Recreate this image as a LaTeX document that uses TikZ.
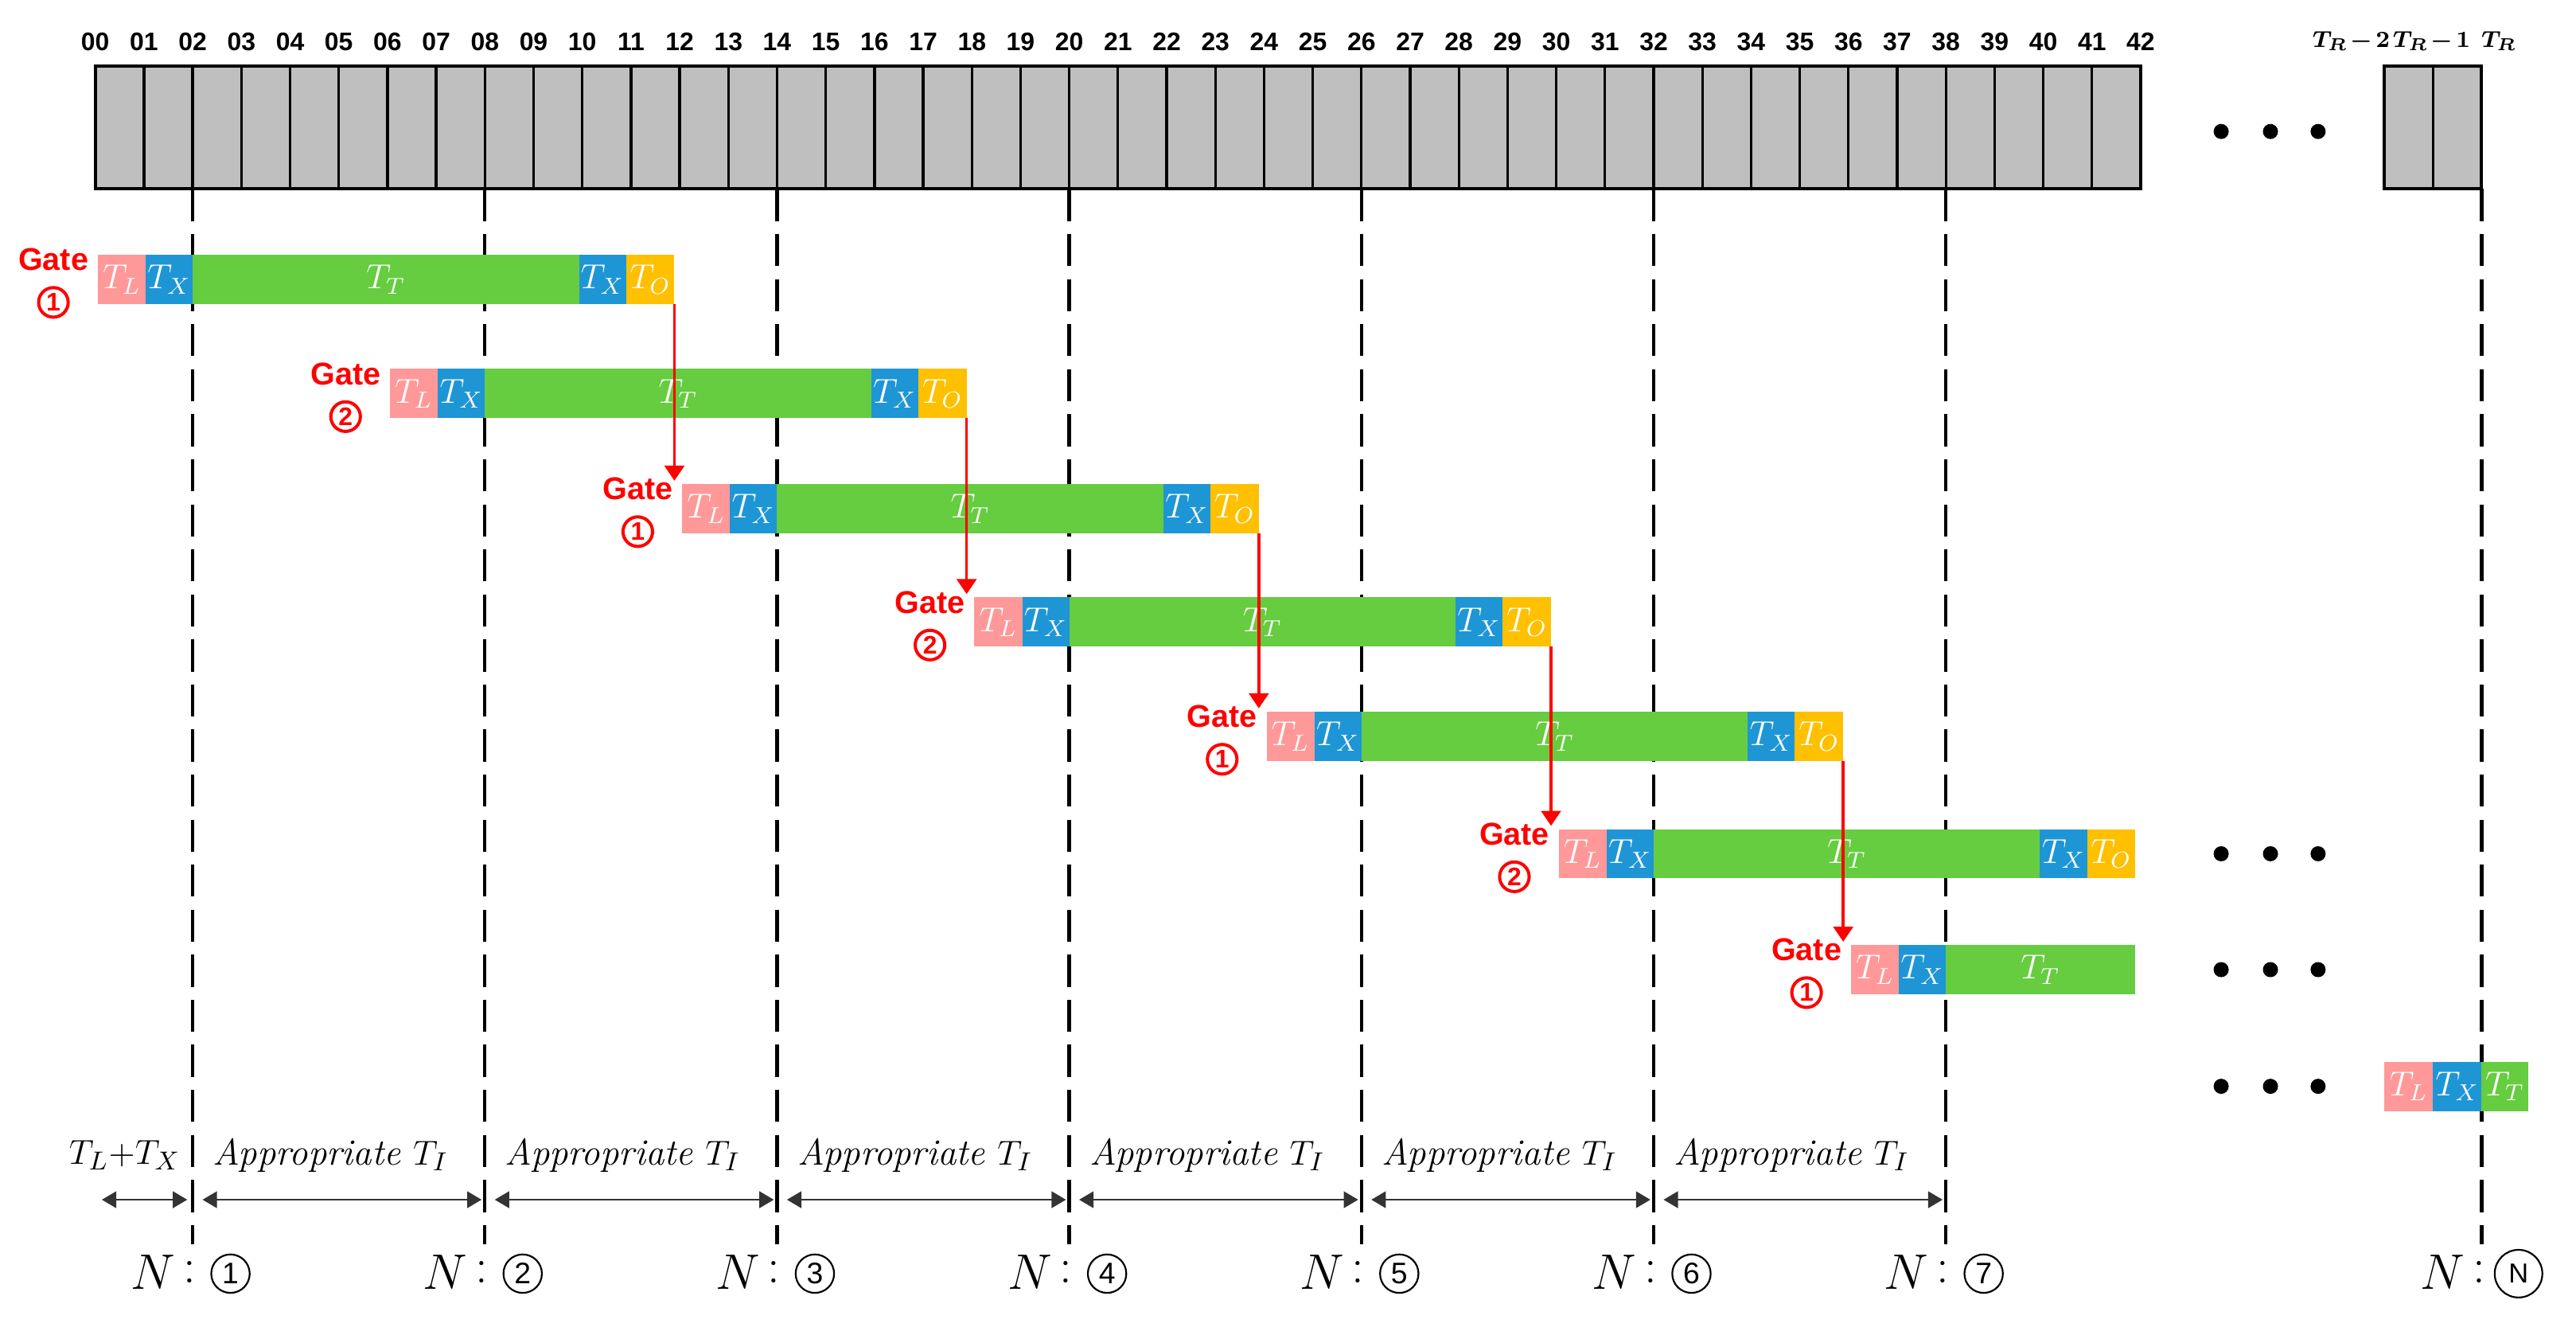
\documentclass[tikz,border=0pt]{standalone}
\usepackage{fontspec}
\newfontfamily\sansf{Liberation Sans}
\usetikzlibrary{arrows.meta,calc}
\definecolor{cTL}{HTML}{FF9999}
\definecolor{cTX}{HTML}{1E96D6}
\definecolor{cTT}{HTML}{66CC40}
\definecolor{cTO}{HTML}{FFC000}
\definecolor{cGray}{HTML}{BFBFBF}
\definecolor{cRed}{HTML}{FF0000}
\newcommand\seg[6]{%
  \node[segbox,fill=#5,minimum width={((#3)-(#2))*0.02cm}] (#1) at ({((#2)+(#3))/2},#4) {#6};}
\begin{document}
\begin{tikzpicture}[x=0.02cm,y=-0.02cm,
  segbox/.style={rectangle,inner sep=0pt,outer sep=0pt,minimum height={30*0.02cm},text=white,font=\fontsize{12}{13}\selectfont},
  gate/.style={text=cRed,font=\sansf\bfseries\fontsize{10.9}{12}\selectfont,inner sep=0pt},
  gcirc/.style={circle,draw=cRed,line width=1.1pt,text=cRed,minimum size={18*0.02cm},inner sep=0pt,font=\sansf\bfseries\fontsize{8.8}{9}\selectfont},
  bcirc/.style={circle,draw,line width=0.6pt,minimum size={23.4*0.02cm},inner sep=0pt,font=\sansf\fontsize{10.3}{11}\selectfont},
  topnum/.style={font=\sansf\bfseries\fontsize{8.8}{9}\selectfont,inner sep=0pt},
  trlab/.style={font=\fontsize{8.5}{10}\selectfont\boldmath,inner sep=0pt},
  dline/.style={line width=1.2pt,dash pattern=on 11.1pt off 4.5pt},
  redarr/.style={cRed,line width=1pt,-{Triangle[width=6.8pt,length=5.2pt]}},
  barr/.style={black!80,line width=0.7pt,{Triangle[width=5.7pt,length=5pt]}-{Triangle[width=5.7pt,length=5pt]}},
  btxt/.style={font=\fontsize{12.9}{14}\selectfont,inner sep=0pt},
  nlab/.style={font=\fontsize{17.28}{19}\selectfont,inner sep=0pt},
  dot/.style={fill=black}]
\useasboundingbox (0,0) rectangle (1568,812);

% ---- dashed guide lines ----
\foreach \k in {2,8,14,20,26,32,38}{
  \draw[dline] ({58+29.643*\k},115) -- ({58+29.643*\k},757);
}
\draw[dline] (1510.5,115) -- (1510.5,757);

% ---- top grid ----
\draw[fill=cGray,line width=1.1pt] (58,40) rectangle (1303,115);
\foreach \i in {1,...,41}{
  \draw[line width=0.9pt] ({58+29.643*\i},40) -- ({58+29.643*\i},115);
}
\draw[fill=cGray,line width=1.1pt] (1451,40) rectangle (1510.5,115);
\draw[line width=0.9pt] (1481,40) -- (1481,115);
\foreach \i in {0,...,42}{
  \node[topnum] (n\i) at ({58+29.643*\i},25.5) {\ifnum\i<10 0\fi\i};
}
\node[trlab,anchor=east] (tr2) at (1455,25) {$T_R\mkern2mu{-}\mkern2mu2$};
\node[trlab,anchor=east] (tr1) at (1504,25) {$T_R\mkern2mu{-}\mkern2mu1$};
\node[trlab,anchor=west] (tr0) at (1510,25) {$T_R$};
\foreach \x in {1352,1382,1411}{
  \fill[dot] (\x,80) circle[radius=4.6];
}

% ---- bars ----
\foreach \r/\g/\yc in {0/1/170,1/2/239.5,2/1/309.5,3/2/378.5,4/1/448,5/2/519.5}{
  \pgfmathsetmacro\xa{58+29.643*6*\r+1.5}
  \pgfmathsetmacro\xb{58+29.643*(6*\r+1)+1}
  \pgfmathsetmacro\xc{58+29.643*(6*\r+2)}
  \pgfmathsetmacro\xd{58+29.643*(6*\r+10)-2}
  \pgfmathsetmacro\xe{58+29.643*(6*\r+11)-3}
  \pgfmathsetmacro\xf{58+29.643*(6*\r+12)-3.2}
  \seg{L\r}{\xa}{\xb}{\yc}{cTL}{$T_L$}
  \seg{X\r}{\xb}{\xc}{\yc}{cTX}{$T_X$}
  \seg{T\r}{\xc}{\xd}{\yc}{cTT}{$T_T$}
  \seg{Y\r}{\xd}{\xe}{\yc}{cTX}{$T_X$}
  \seg{O\r}{\xe}{\xf}{\yc}{cTO}{$T_O$}
  \node[gate] (G\r) at ({\xa-27},{\yc-12}) {Gate};
  \node[gcirc] (C\r) at ({\xa-27},{\yc+14}) {\g};
}
\pgfmathsetmacro\xa{58+29.643*36+1.5}
\pgfmathsetmacro\xb{58+29.643*37+1}
\pgfmathsetmacro\xc{58+29.643*38}
\seg{L6}{\xa}{\xb}{590}{cTL}{$T_L$}
\seg{X6}{\xb}{\xc}{590}{cTX}{$T_X$}
\seg{T6}{\xc}{1299.5}{590}{cTT}{$T_T$}
\node[gate] (G6) at ({\xa-27},578) {Gate};
\node[gcirc] (C6) at ({\xa-27},604) {1};

\seg{L7}{1451}{1481}{661}{cTL}{$T_L$}
\seg{X7}{1481}{1510.5}{661}{cTX}{$T_X$}
\seg{T7}{1510.5}{1539}{661}{cTT}{$T_T$}

% ---- dots in rows ----
\foreach \y in {519.5,590,661}{
  \foreach \x in {1352,1382,1411}{
    \fill[dot] (\x,\y) circle[radius=4.6];
  }
}

% ---- red arrows ----
\foreach \r [evaluate=\r as \rr using int(\r+2)] in {0,...,4}{
  \draw[redarr] (O\r.south east) -- ($(O\r.south east |- L\rr.north)+(0,-2)$);
}

% ---- bottom intervals ----
\node[btxt] (s0) at (76,703) {$T_L{+}T_X$};
\coordinate (a0) at (62,730);
\coordinate (b0) at (114,730);
\draw[barr] (a0) -- (b0);
\foreach \k in {1,...,6}{
  \pgfmathsetmacro\lx{58+29.643*(6*\k-4)}
  \pgfmathsetmacro\rx{58+29.643*(6*\k+2)}
  \node[btxt] (s\k) at ({(\lx+\rx)/2-5},703) {\textit{Appropriate} $T_I$};
  \coordinate (a\k) at ({\lx+6},730);
  \coordinate (b\k) at ({\rx-2},730);
  \draw[barr] (a\k) -- (b\k);
}

% ---- N labels ----
\foreach \k in {1,...,7}{
  \pgfmathsetmacro\bx{58+29.643*(6*\k-4)}
  \node[nlab] (N\k) at ({\bx-24},774) {$N$};
  \node[nlab] (P\k) at ({\bx-2},774) {:};
  \node[bcirc] (Q\k) at ({\bx+23},775) {\k};
}
\node[nlab] (N8) at (1487,774) {$N$};
\node[nlab] (P8) at (1509,774) {:};
\node[bcirc,minimum size={29*0.02cm},font=\sansf\fontsize{9.5}{10}\selectfont] (Q8) at (1533,775) {N};
\end{tikzpicture}
\end{document}
